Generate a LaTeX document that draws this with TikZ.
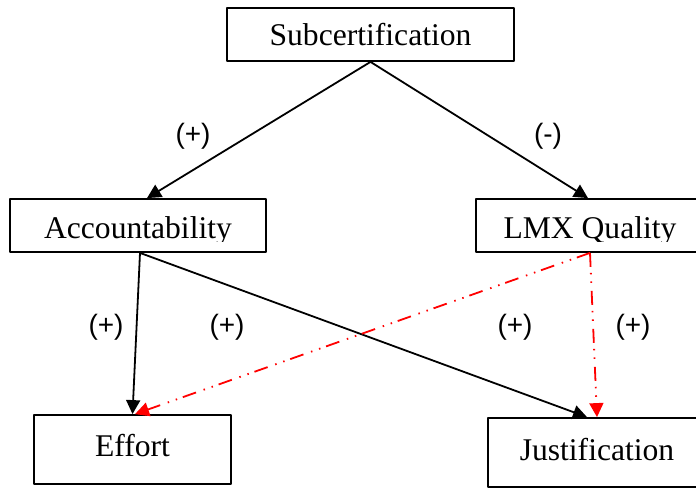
\documentclass[tikz,border=0pt]{standalone}
\usepackage{fontspec}
\setmainfont{Liberation Serif}
\newfontfamily\signfont{Liberation Sans}
\usetikzlibrary{arrows.meta}
\tikzset{
  box/.style={draw, line width=1.8pt, inner xsep=0pt, inner ysep=0pt, anchor=base,
    font=\fontsize{31.6}{36}\selectfont},
  link/.style={line width=1.8pt, -{Triangle[length=14pt,width=14pt]}},
  redlink/.style={link, red, dash pattern=on 14pt off 6pt on 1.5pt off 7pt on 1.5pt off 8pt},
  sign/.style={font=\signfont\fontsize{28}{32}\selectfont},
}
\begin{document}
\begin{tikzpicture}[x=1pt, y=-1pt, line join=round]
	\useasboundingbox (0,0) rectangle (696,489);
	% Kasten
	\node[box, minimum width=287pt, text height=38pt, text depth=15pt] (sub) at (370.5,46) {Subcertification};
	\node[box, minimum width=256pt, text height=40pt, text depth=13pt] (acc) at (138,239) {Accountability};
	\node[box, minimum width=228pt, text height=40pt, text depth=13pt] (lmx) at (590,239) {LMX Quality};
	\node[box, minimum width=197pt, text height=41pt, text depth=28pt] (eff) at (132.5,456) {Effort};
	\node[box, minimum width=218pt, text height=42pt, text depth=27pt] (jus) at (597,460) {Justification};
	% Unterlaengen abgeschnitten
	\fill[white] ([shift={(2pt,1.5pt)}]acc.south west) rectangle ([shift={(-2pt,10.5pt)}]acc.south east);
	\fill[white] ([shift={(2pt,1.5pt)}]lmx.south west) rectangle ([shift={(-2pt,10.5pt)}]lmx.south east);
	% Pfeile
	\draw[link] (sub.south) -- ([xshift=9pt]acc.north);
	\draw[link] (sub.south) -- ([xshift=-2pt]lmx.north);
	\draw[link] ([xshift=2pt]acc.south) -- (eff.north);
	\draw[link] ([xshift=2pt]acc.south) -- ([xshift=-10pt]jus.north);
	\draw[redlink] (lmx.south) -- ([xshift=2.5pt]eff.north);
	\draw[redlink] (lmx.south) -- (jus.north);
	% Vorzeichen
	\node[sign] (s1) at (193,136) {(+)};
	\node[sign] (s2) at (548,136) {(-)};
	\node[sign] (s3) at (106,327) {(+)};
	\node[sign] (s4) at (227,327) {(+)};
	\node[sign] (s5) at (515,327) {(+)};
	\node[sign] (s6) at (633,327) {(+)};
\end{tikzpicture}
\end{document}
